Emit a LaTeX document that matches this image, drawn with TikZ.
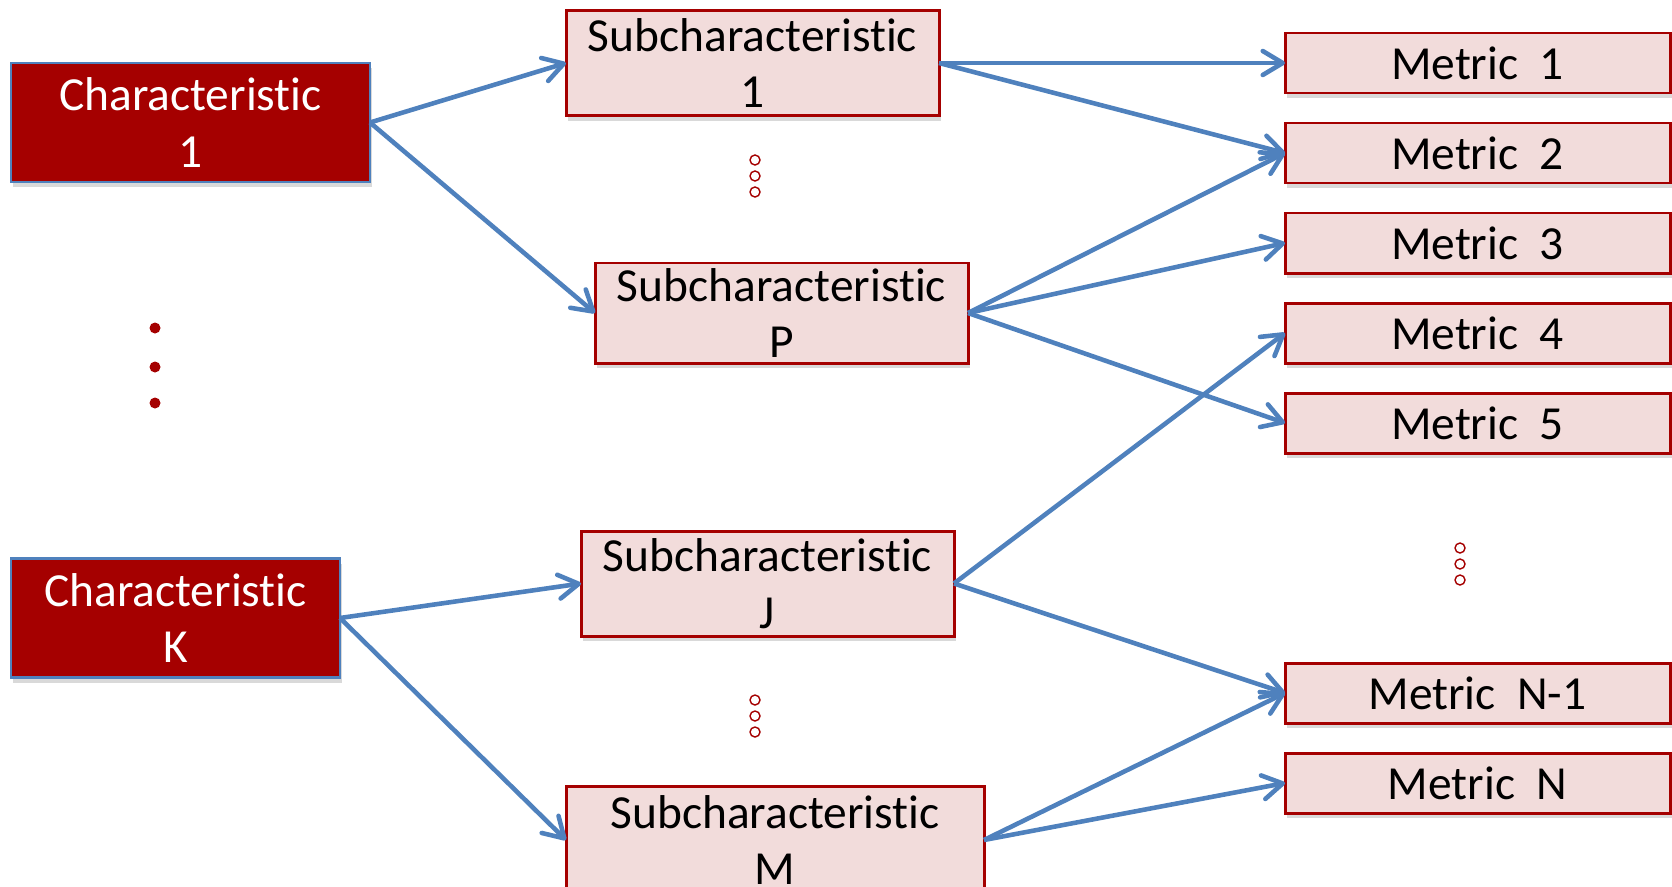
\documentclass[tikz,border=0pt]{standalone}
\usepackage{fontspec}
\setmainfont[Ligatures=NoCommon]{Carlito}
\usepackage{tikz}
\usetikzlibrary{arrows.meta}
\usetikzlibrary{shadows}
\usetikzlibrary{positioning}
\definecolor{darkred}{HTML}{A50000}
\definecolor{lightpink}{HTML}{F2DCDB}
\definecolor{steelblue}{HTML}{4F81BD}
\tikzset{auto, >={Straight Barb[length=0.2cm,width=0.24cm,round]}, node distance=0.3cm, font=\fontsize{13.5}{16.1}\selectfont}
\tikzstyle{boxshadow} = [drop shadow={shadow xshift=0.02cm, shadow yshift=-0.05cm, opacity=0.25, fill=black!60}]
\tikzstyle{charbox} = [draw=steelblue, line width=0.6pt, fill=darkred, text=white, rectangle, minimum height=1.19cm, inner sep=0pt, outer sep=0pt, text centered, align=center, boxshadow]
\tikzstyle{subbox} = [draw=darkred, line width=0.85pt, fill=lightpink, rectangle, minimum width=3.73cm, minimum height=1.05cm, inner sep=0pt, outer sep=0pt, text centered, align=center, boxshadow]
\tikzstyle{metbox} = [draw=darkred, line width=0.85pt, fill=lightpink, rectangle, minimum width=3.85cm, minimum height=0.6cm, inner sep=0pt, outer sep=0pt, text centered, boxshadow]
\tikzstyle{link} = [->, draw=steelblue, line width=1.3pt]
\tikzstyle{fdot} = [circle, fill=darkred, minimum size=0.11cm, inner sep=0pt, outer sep=0pt]
\tikzstyle{odot} = [circle, draw=darkred, line width=0.4pt, fill=white, minimum size=0.1cm, inner sep=0pt, outer sep=0pt]

\begin{document}
\begin{tikzpicture}
		\useasboundingbox (0,0) rectangle (16.72,-8.86);

		\node [charbox, minimum width=3.59cm] at (1.905,-1.225) (char_1) {Characteristic\\1};
		\node [charbox, minimum width=3.29cm] at (1.755,-6.18) (char_k) {Characteristic\\K};

		\node [fdot] at (1.55,-3.28) (cd_a) {};
		\node [fdot, below=0.28cm of cd_a] (cd_b) {};
		\node [fdot, below=0.25cm of cd_b] (cd_c) {};

		\node [subbox] at (7.525,-0.63) (sub_1) {Subcharacteristic\\1};
		\node [subbox, minimum height=1.0cm] at (7.815,-3.13) (sub_p) {Subcharacteristic\\P};
		\node [subbox] at (7.675,-5.835) (sub_j) {Subcharacteristic\\J};
		\node [subbox, minimum width=4.18cm, minimum height=1.08cm] at (7.75,-8.40) (sub_m) {Subcharacteristic\\M};

		\node [odot] at (7.55,-1.60) (sd_a) {};
		\node [odot, below=0.06cm of sd_a] (sd_b) {};
		\node [odot, below=0.06cm of sd_b] (sd_c) {};

		\node [odot] at (7.55,-7.00) (sd_d) {};
		\node [odot, below=0.06cm of sd_d] (sd_e) {};
		\node [odot, below=0.06cm of sd_e] (sd_f) {};

		\node [metbox] at (14.775,-0.63) (met_1) {Metric~~1};
		\node [metbox, below=of met_1] (met_2) {Metric~~2};
		\node [metbox, below=of met_2] (met_3) {Metric~~3};
		\node [metbox, below=of met_3] (met_4) {Metric~~4};
		\node [metbox, below=of met_4] (met_5) {Metric~~5};
		\node [metbox, below=2.1cm of met_5] (met_n1) {Metric~~N-1};
		\node [metbox, below=of met_n1] (met_n) {Metric~~N};

		\node [odot] at (14.60,-5.48) (md_a) {};
		\node [odot, below=0.06cm of md_a] (md_b) {};
		\node [odot, below=0.06cm of md_b] (md_c) {};

		\draw [link] (char_1.east) -- (sub_1.west);
		\draw [link] (char_1.east) -- (sub_p.west);
		\draw [link] (char_k.east) -- (sub_j.west);
		\draw [link] (char_k.east) -- (sub_m.west);

		\draw [link] (sub_1.east) -- (met_1.west);
		\draw [link] (sub_1.east) -- (met_2.west);
		\draw [link] (sub_p.east) -- (met_2.west);
		\draw [link] (sub_p.east) -- (met_3.west);
		\draw [link] (sub_p.east) -- (met_5.west);
		\draw [link] (sub_j.east) -- (met_4.west);
		\draw [link] (sub_j.east) -- (met_n1.west);
		\draw [link] (sub_m.east) -- (met_n1.west);
		\draw [link] (sub_m.east) -- (met_n.west);

	\end{tikzpicture}
\end{document}
